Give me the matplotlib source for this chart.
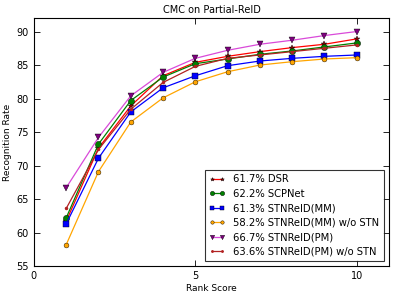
import matplotlib.pyplot as plt
import numpy as np

# dati
rank = np.arange(1, 11)
dsr = [61.7, 72.6, 78.9, 83.4, 85.4, 86.3, 87.0, 87.6, 88.1, 88.9]
scpnet = [62.2, 73.2, 79.7, 83.2, 85.2, 85.9, 86.6, 87.1, 87.7, 88.3]
stn_mm = [61.3, 71.1, 78.0, 81.6, 83.4, 84.9, 85.6, 86.0, 86.3, 86.5]
stn_mm_nostn = [58.2, 69.1, 76.5, 80.1, 82.5, 84.0, 85.0, 85.5, 85.9, 86.1]
stn_pm = [66.7, 74.2, 80.4, 83.9, 86.0, 87.2, 88.1, 88.7, 89.4, 90.0]
stn_pm_nostn = [63.6, 72.4, 78.4, 82.4, 84.8, 86.0, 86.5, 87.0, 87.5, 88.0]

labels = ["61.7% DSR", "62.2% SCPNet", "61.3% STNReID(MM)",
          "58.2% STNReID(MM) w/o STN", "66.7% STNReID(PM)", "63.6% STNReID(PM) w/o STN"]

fig = plt.figure(figsize=(3.99, 2.97), dpi=100)
ax = fig.add_axes([0.085, 0.104, 0.89, 0.835])

ax.plot(rank, dsr, color="red", marker="*", markersize=4, markerfacecolor="darkred",
        markeredgecolor="black", markeredgewidth=0.3, linewidth=0.9, label=labels[0])
ax.plot(rank, scpnet, color="green", marker="o", markersize=4.5, markerfacecolor="green",
        markeredgecolor="black", markeredgewidth=0.3, linewidth=0.9, label=labels[1])
ax.plot(rank, stn_mm, color="blue", marker="s", markersize=4.5, markerfacecolor="blue",
        markeredgecolor="black", markeredgewidth=0.3, linewidth=0.9, label=labels[2])
ax.plot(rank, stn_mm_nostn, color="orange", marker="o", markersize=3.5, markerfacecolor="orange",
        markeredgecolor="black", markeredgewidth=0.3, linewidth=0.9, label=labels[3])
ax.plot(rank, stn_pm, color="#d94ad9", marker="v", markersize=4.5, markerfacecolor="purple",
        markeredgecolor="black", markeredgewidth=0.3, linewidth=0.9, label=labels[4])
ax.plot(rank, stn_pm_nostn, color="firebrick", marker=".", markersize=3, markerfacecolor="firebrick",
        markeredgecolor="firebrick", linewidth=0.9, label=labels[5])

ax.set_xlim(0, 11)
ax.set_ylim(55, 92)
ax.set_xticks([0, 5, 10])
ax.set_yticks(range(55, 91, 5))
ax.tick_params(direction="in", top=True, right=True, labelsize=7, length=4, width=0.6)
for s in ax.spines.values():
    s.set_linewidth(0.8)

ax.set_title("CMC on Partial-ReID", fontsize=7, pad=4)
ax.set_xlabel("Rank Score", fontsize=6.5, labelpad=2)
ax.set_ylabel("Recognition Rate", fontsize=6.5, labelpad=3)

leg = ax.legend(loc="lower right", fontsize=7.2, numpoints=2, fancybox=False, markerscale=0.7,
                borderaxespad=0.5, handlelength=1.6, labelspacing=0.45, borderpad=0.45)
leg.get_frame().set_edgecolor("black")
leg.get_frame().set_linewidth(0.8)

fig.savefig("out.png", dpi=100)
